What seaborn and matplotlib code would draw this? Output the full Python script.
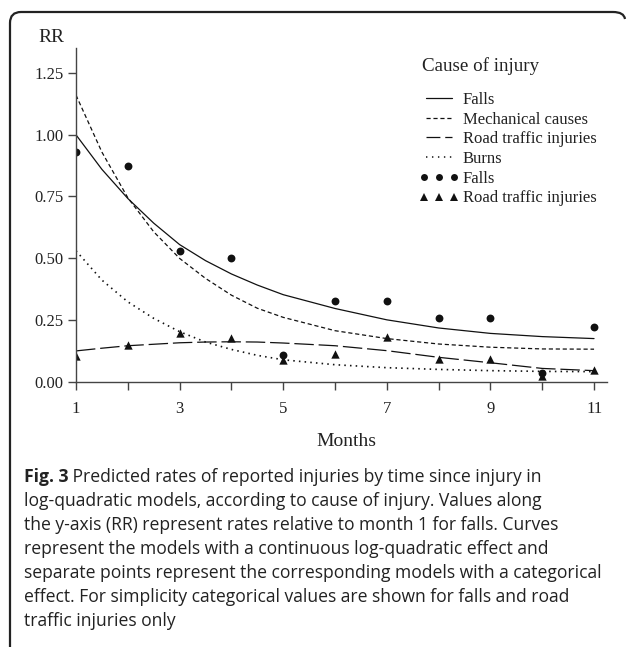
import numpy as np
import pandas as pd
import matplotlib
matplotlib.use("Agg")
import matplotlib.pyplot as plt
import seaborn as sns
from matplotlib.lines import Line2D
from matplotlib.legend_handler import HandlerLine2D
from matplotlib.path import Path
from matplotlib.patches import PathPatch

# ---------------- data ----------------
months = list(range(1, 12))
falls_points = [0.93, 0.874, 0.53, 0.50, 0.107, 0.326, 0.326, 0.256, 0.256, 0.036, 0.222]
road_points = [0.105, 0.148, 0.195, 0.175, 0.087, 0.111, 0.179, 0.091, 0.091, 0.022, 0.047]

curve_months = [1, 1.5, 2, 2.5, 3, 3.5, 4, 4.5, 5, 6, 7, 8, 9, 10, 11]
falls_curve = [1.00, 0.86, 0.742, 0.642, 0.555, 0.49, 0.436, 0.391, 0.352, 0.296, 0.250, 0.217, 0.195, 0.182, 0.174]
mech_curve = [1.161, 0.93, 0.745, 0.607, 0.499, 0.418, 0.35, 0.297, 0.26, 0.206, 0.174, 0.152, 0.139, 0.132, 0.131]
road_curve = [0.124, 0.135, 0.145, 0.151, 0.157, 0.160, 0.161, 0.160, 0.156, 0.145, 0.125, 0.098, 0.076, 0.053, 0.044]
burns_curve = [0.53, 0.411, 0.323, 0.256, 0.202, 0.160, 0.130, 0.106, 0.088, 0.068, 0.056, 0.049, 0.044, 0.041, 0.040]

y_ticks = [0.00, 0.25, 0.50, 0.75, 1.00, 1.25]
y_tick_labels = ["0.00", "0.25", "0.50", "0.75", "1.00", "1.25"]
x_ticks = months
x_tick_labels = ["1", "", "3", "", "5", "", "7", "", "9", "", "11"]

legend_title = "Cause of injury"
legend_labels = ["Falls", "Mechanical causes", "Road traffic injuries", "Burns",
                 "Falls", "Road traffic injuries"]

caption_bold = "Fig. 3"
caption_lines = [
    " Predicted rates of reported injuries by time since injury in",
    "log-quadratic models, according to cause of injury. Values along",
    "the y-axis (RR) represent rates relative to month 1 for falls. Curves",
    "represent the models with a continuous log-quadratic effect and",
    "separate points represent the corresponding models with a categorical",
    "effect. For simplicity categorical values are shown for falls and road",
    "traffic injuries only",
]

# ---------------- style ----------------
sns.set_style("ticks")
plt.rcParams["font.family"] = ["Liberation Serif", "DejaVu Serif"]
plt.rcParams["lines.scale_dashes"] = False

W, H = 627, 649
fig = plt.figure(figsize=(W / 100, H / 100), dpi=100)
ax_left, ax_right, ax_top, ax_bottom = 76, 607, 48, 381.5
ax = fig.add_axes([ax_left / W, 1 - ax_bottom / H, (ax_right - ax_left) / W, (ax_bottom - ax_top) / H])

ink = "#111111"
lw = 0.9
sns.lineplot(x=curve_months, y=falls_curve, ax=ax, color=ink, lw=lw, linestyle="-")
sns.lineplot(x=curve_months, y=mech_curve, ax=ax, color=ink, lw=lw, dashes=(3.0, 2.0))
sns.lineplot(x=curve_months, y=road_curve, ax=ax, color=ink, lw=lw, dashes=(14.0, 3.5))
sns.lineplot(x=curve_months, y=burns_curve, ax=ax, color=ink, lw=1.2, dashes=(1.1, 3.0))
sns.scatterplot(x=months, y=falls_points, ax=ax, marker="o", s=32, color=ink, linewidth=0)
sns.scatterplot(x=months, y=road_points, ax=ax, marker="^", s=36, color=ink, linewidth=0)

ax.set_xlim(1, 11.25)
ax.set_ylim(0, 1.352)
ax.set_xticks(x_ticks)
ax.set_xticklabels(x_tick_labels)
ax.set_yticks(y_ticks)
ax.set_yticklabels(y_tick_labels)
ax.set_xlabel("")
ax.set_ylabel("")
sns.despine(ax=ax)
for s in ("left", "bottom"):
    ax.spines[s].set_color("#444444")
    ax.spines[s].set_linewidth(1.0)
ax.tick_params(axis="both", direction="out", length=5.8, width=1.0, color="#444444",
               labelsize=12, labelcolor="#222222")
ax.tick_params(axis="x", pad=8.5)
ax.tick_params(axis="y", pad=3.2)

fig.text(51 / W, 1 - 37 / H, "RR", ha="center", va="center", fontsize=14, color="#222222")
fig.text(346 / W, 1 - 441 / H, "Months", ha="center", va="center", fontsize=14, color="#222222")

# legend title as its own text, then the entries
fig.text(422 / W, 1 - 66 / H, legend_title, ha="left", va="center", fontsize=13.7, color="#222222")
handles = [
    Line2D([], [], color=ink, lw=lw, linestyle="-"),
    Line2D([], [], color=ink, lw=lw, dashes=(3.0, 2.0)),
    Line2D([], [], color=ink, lw=lw, dashes=(10.0, 3.5)),
    Line2D([], [], color=ink, lw=1.1, dashes=(1.0, 3.3)),
    Line2D([], [], color=ink, linestyle="none", marker="o", markersize=5, markeredgewidth=0),
    Line2D([], [], color=ink, linestyle="none", marker="^", markersize=5.5, markeredgewidth=0),
]
hmap = {h: HandlerLine2D(marker_pad=0.2) for h in handles[4:]}
leg = ax.legend(handles, legend_labels, loc="upper left",
                bbox_to_anchor=(421 / W, 1 - 92 / H), bbox_transform=fig.transFigure,
                frameon=False, fontsize=12, numpoints=3, handler_map=hmap,
                handlelength=2.16, handletextpad=0.36, labelspacing=0.22, borderpad=0,
                borderaxespad=0)
for t in leg.get_texts():
    t.set_color("#222222")

# caption
cap_font = ["Open Sans", "DejaVu Sans"]
cap_size = 12.65
x0 = 24 / W
y_first = 477
spacing = 24
bold = fig.text(x0, 1 - y_first / H, caption_bold, ha="left", va="center", fontsize=cap_size,
                fontweight="bold", family=cap_font, color="#222222")
fig.canvas.draw()
ax.annotate(caption_lines[0], xy=(1, 0.5), xycoords=bold, ha="left", va="center",
            fontsize=cap_size, family=cap_font, color="#222222", annotation_clip=False)
for i, line in enumerate(caption_lines[1:], start=1):
    fig.text(x0, 1 - (y_first + i * spacing) / H, line, ha="left", va="center",
             fontsize=cap_size, family=cap_font, color="#222222")

# rounded border (top and left sides)
def px(x, y):
    return (x / 100, (H - y) / 100)

verts = [px(10, 647), px(10, 23), px(10, 12), px(21, 12), px(613, 12), px(624, 12), px(625, 19)]
codes = [Path.MOVETO, Path.LINETO, Path.CURVE3, Path.CURVE3, Path.LINETO, Path.CURVE3, Path.CURVE3]
border = PathPatch(Path(verts, codes), facecolor="none", edgecolor="#222222", lw=1.6,
                   transform=fig.dpi_scale_trans)
fig.add_artist(border)

fig.savefig("out.png", dpi=100)
